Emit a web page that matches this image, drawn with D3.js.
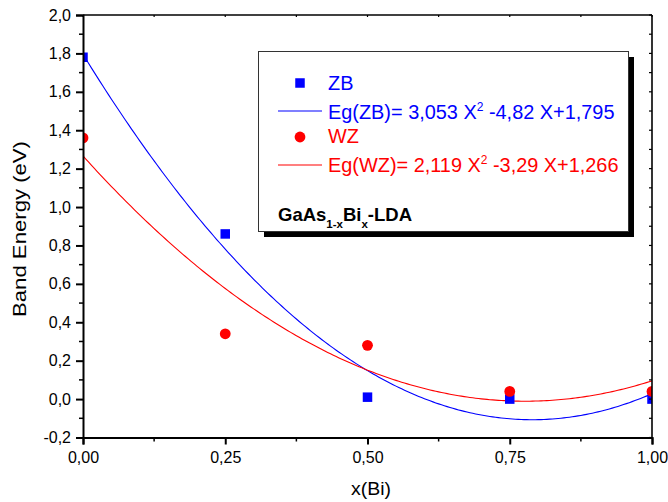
<!DOCTYPE html>
<html>
<head>
<meta charset="utf-8">
<script src="https://cdn.jsdelivr.net/npm/d3@7"></script>
<style>
  body { margin: 0; background: #fff; }
  svg { display: block; font-family: Arial, "Liberation Sans", sans-serif; }
</style>
</head>
<body>
<svg id="chart" width="668" height="502"></svg>
<script>
// Bismuth fraction x in GaAs(1-x)Bi(x)
const composition = [0, 0.25, 0.5, 0.75, 1.0];
// Computed band gaps (eV)
const gapZB = [1.78, 0.86, 0.01, 0.0, 0.0];
const gapWZ = [1.36, 0.34, 0.28, 0.04, 0.04];
// Quadratic fit coefficients [a, b, c] for Eg = a X^2 + b X + c
const fitZB = [3.053, -4.82, 1.795];
const fitWZ = [2.119, -3.29, 1.266];
// Axis ticks
const xTicks = [0, 0.25, 0.5, 0.75, 1.0];
const yTicks = [-0.2, 0, 0.2, 0.4, 0.6, 0.8, 1.0, 1.2, 1.4, 1.6, 1.8, 2.0];

const svg = d3.select("#chart");
const pL = 83, pR = 652, pT = 15, pB = 437.5;

const x = d3.scaleLinear().domain([0, 1]).range([pL, pR]);
const y = d3.scaleLinear().domain([-0.2, 2.0]).range([pB, pT]);

const comma = (v, d) => v.toFixed(d).replace(".", ",");

svg.append("clipPath").attr("id", "plot-clip")
  .append("rect").attr("x", pL).attr("y", pT)
  .attr("width", pR - pL).attr("height", pB - pT);

const plot = svg.append("g").attr("clip-path", "url(#plot-clip)");

// Fitted parabolas
function fitCurve(coef) {
  const xs = d3.range(0, 1.0001, 0.005);
  return xs.map(v => [v, coef[0] * v * v + coef[1] * v + coef[2]]);
}
const line = d3.line().x(d => x(d[0])).y(d => y(d[1]));
plot.append("path").datum(fitCurve(fitZB))
  .attr("d", line).attr("fill", "none").attr("stroke", "#0000ff").attr("stroke-width", 1.1);
plot.append("path").datum(fitCurve(fitWZ))
  .attr("d", line).attr("fill", "none").attr("stroke", "#ff0000").attr("stroke-width", 1.1);

// Data markers
const sq = 9.5;
plot.selectAll("rect.zb").data(composition).join("rect")
  .attr("class", "zb")
  .attr("x", (d) => x(d) - sq / 2)
  .attr("y", (d, i) => y(gapZB[i]) - sq / 2)
  .attr("width", sq).attr("height", sq).attr("fill", "#0000ff");
plot.selectAll("circle.wz").data(composition).join("circle")
  .attr("class", "wz")
  .attr("cx", d => x(d))
  .attr("cy", (d, i) => y(gapWZ[i]))
  .attr("r", 5.4).attr("fill", "#ff0000");

// Axes
const axisBottom = d3.axisBottom(x).tickValues(xTicks).tickSize(7).tickPadding(7)
  .tickFormat(d => comma(d, 2));
const axisLeft = d3.axisLeft(y).tickValues(yTicks).tickSize(7).tickPadding(5)
  .tickFormat(d => comma(d, 1));

const gx = svg.append("g").attr("transform", `translate(0,${pB})`).call(axisBottom);
const gy = svg.append("g").attr("transform", `translate(${pL},0)`).call(axisLeft);

// Minor ticks
const xMinor = d3.range(0.125, 1, 0.25);
const yMinor = d3.range(-0.1, 2.0, 0.2);
svg.append("g").selectAll("line").data(xMinor).join("line")
  .attr("x1", d => x(d)).attr("x2", d => x(d))
  .attr("y1", pB).attr("y2", pB + 4)
  .attr("stroke", "#000").attr("stroke-width", 1.5);
svg.append("g").selectAll("line").data(yMinor).join("line")
  .attr("x1", pL - 4).attr("x2", pL)
  .attr("y1", d => y(d)).attr("y2", d => y(d))
  .attr("stroke", "#000").attr("stroke-width", 1.5);

// Mirror axes on top and right, ticks pointing inward
svg.append("line").attr("x1", pL).attr("x2", pR).attr("y1", pT).attr("y2", pT)
  .attr("stroke", "#000").attr("stroke-width", 1.6);
svg.append("line").attr("x1", pR).attr("x2", pR).attr("y1", pT).attr("y2", pB)
  .attr("stroke", "#000").attr("stroke-width", 1.6);
svg.append("g").selectAll("line").data(yTicks.concat(yMinor)).join("line")
  .attr("x1", pR - 3).attr("x2", pR)
  .attr("y1", d => y(d)).attr("y2", d => y(d))
  .attr("stroke", "#000").attr("stroke-width", 1.2);
svg.append("g").selectAll("line").data(xTicks.concat(xMinor)).join("line")
  .attr("x1", d => x(d)).attr("x2", d => x(d))
  .attr("y1", pT).attr("y2", pT + 2)
  .attr("stroke", "#000").attr("stroke-width", 1.2);

[gx, gy].forEach(g => {
  g.select(".domain").attr("stroke", "#000").attr("stroke-width", 2);
  g.selectAll(".tick line").attr("stroke", "#000").attr("stroke-width", 2);
  g.selectAll(".tick text").attr("font-size", 16).attr("fill", "#000")
    .attr("font-family", "Arial, 'Liberation Sans', sans-serif");
});

// Axis titles
svg.append("text").attr("x", 371).attr("y", 495)
  .attr("text-anchor", "middle").attr("font-size", 18)
  .attr("textLength", 40).attr("lengthAdjust", "spacingAndGlyphs").text("x(Bi)");
svg.append("text")
  .attr("transform", `translate(26,229) rotate(-90)`)
  .attr("text-anchor", "middle").attr("font-size", 17.5)
  .attr("textLength", 176).attr("lengthAdjust", "spacingAndGlyphs").text("Band Energy (eV)");

// Legend box with drop shadow
const lg = svg.append("g");
lg.append("rect").attr("x", 264).attr("y", 57).attr("width", 370).attr("height", 180).attr("fill", "#000");
lg.append("rect").attr("x", 258.5).attr("y", 51.5).attr("width", 370).attr("height", 180)
  .attr("fill", "#fff").attr("stroke", "#333").attr("stroke-width", 1);

const fs = 19.9;
lg.append("rect").attr("x", 300 - sq / 2).attr("y", 83 - sq / 2).attr("width", sq).attr("height", sq).attr("fill", "#0000ff");
lg.append("text").attr("x", 328).attr("y", 90).attr("font-size", fs).attr("fill", "#0000ff").text("ZB");
lg.append("line").attr("x1", 278).attr("x2", 322).attr("y1", 111).attr("y2", 111)
  .attr("stroke", "#0000ff").attr("stroke-width", 1.2);

function equation(yb, color, name, coef) {
  const t = lg.append("text").attr("x", 328).attr("y", yb).attr("font-size", fs).attr("fill", color);
  t.append("tspan").text(`Eg(${name})= ${comma(coef[0], 3)} X`);
  t.append("tspan").attr("font-size", 12).attr("dy", -8).text("2");
  const b = coef[1].toString().replace(".", ",");
  const c = coef[2].toString().replace(".", ",");
  t.append("tspan").attr("dy", 8).text(` ${b} X+${c}`);
}
equation(119, "#0000ff", "ZB", fitZB);

lg.append("circle").attr("cx", 300).attr("cy", 137).attr("r", 5.4).attr("fill", "#ff0000");
lg.append("text").attr("x", 328).attr("y", 143).attr("font-size", fs).attr("fill", "#ff0000").text("WZ");
lg.append("line").attr("x1", 278).attr("x2", 322).attr("y1", 165).attr("y2", 165)
  .attr("stroke", "#ff0000").attr("stroke-width", 1.2);
equation(172, "#ff0000", "WZ", fitWZ);

// Material label
const mat = lg.append("text").attr("x", 278).attr("y", 221).attr("font-size", 18.5).attr("font-weight", "bold").attr("fill", "#000");
mat.append("tspan").text("GaAs");
mat.append("tspan").attr("font-size", 11.5).attr("dy", 7).text("1-x");
mat.append("tspan").attr("dy", -7).text("Bi");
mat.append("tspan").attr("font-size", 11.5).attr("dy", 7).text("x");
mat.append("tspan").attr("dy", -7).text("-LDA");
</script>
</body>
</html>
